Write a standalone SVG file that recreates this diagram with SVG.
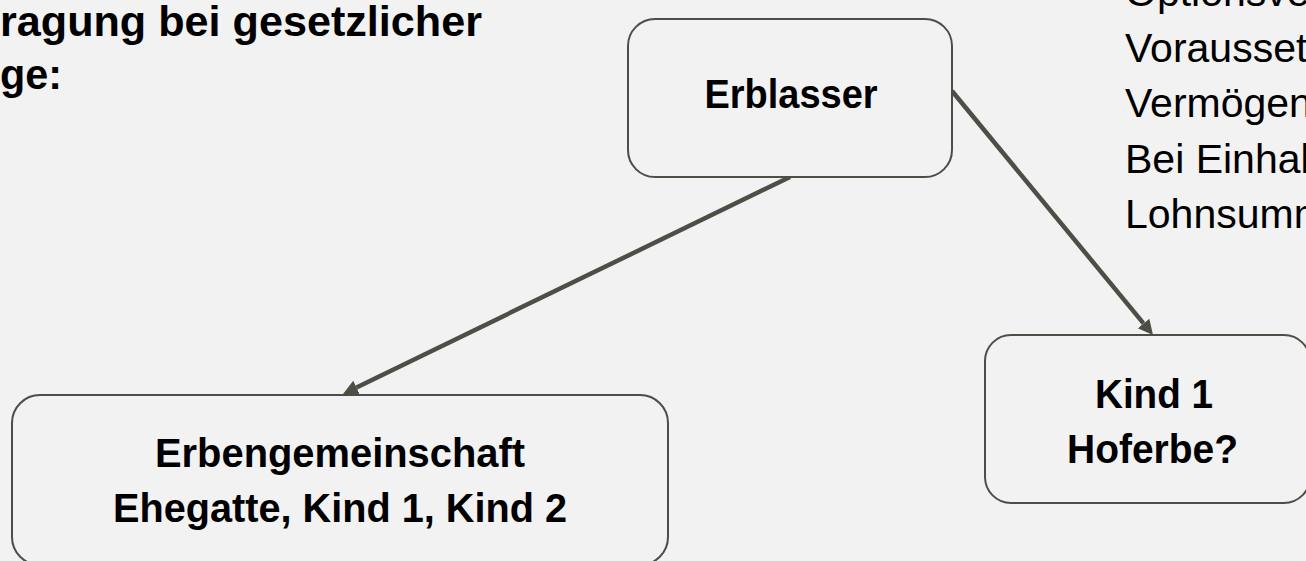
<svg xmlns="http://www.w3.org/2000/svg" width="1306" height="561" viewBox="0 0 1306 561">
  <style>
    .bg { fill: #f2f2f2; }
    .box { fill: #f2f2f2; stroke: #4b4f46; stroke-width: 2; }
    .link { fill: none; stroke: #4b4f46; stroke-width: 4.5; }
    .lbl { font-family: "Liberation Sans", Arial, sans-serif; font-weight: bold; font-size: 40px; fill: #000; text-anchor: middle; }
    .head { font-family: "Liberation Sans", Arial, sans-serif; font-weight: bold; font-size: 42px; fill: #000; }
    .note { font-family: "Liberation Sans", Arial, sans-serif; font-size: 41px; fill: #000; }
  </style>
  <defs>
    <marker id="arrow" markerUnits="userSpaceOnUse" viewBox="0 -8 15 16" refX="0" refY="0" markerWidth="15" markerHeight="16" orient="auto">
      <path d="M0,-7.5 L15,0 L0,7.5 Z" fill="#4b4f46"/>
    </marker>
  </defs>

  <rect class="bg" x="0" y="0" width="1306" height="561"/>

  <!-- heading, running off the left edge -->
  <g id="heading">
    <text class="head" x="0" y="36" textLength="482" lengthAdjust="spacingAndGlyphs">ragung bei gesetzlicher</text>
    <text class="head" x="0" y="89" textLength="62" lengthAdjust="spacingAndGlyphs">ge:</text>
  </g>

  <!-- side notes, running off the right edge -->
  <g id="notes">
    <text class="note" x="1125" y="6">Optionsve</text>
    <text class="note" x="1125" y="62">Vorausset</text>
    <text class="note" x="1125" y="117">Vermögen</text>
    <text class="note" x="1125" y="173">Bei Einhal</text>
    <text class="note" x="1125" y="228">Lohnsumm</text>
  </g>

  <g id="connectors">
    <line class="link" x1="790" y1="177" x2="356.5" y2="387.4" marker-end="url(#arrow)"/>
    <line class="link" x1="952" y1="91" x2="1143.5" y2="323.4" marker-end="url(#arrow)"/>
  </g>

  <g id="node-erblasser">
    <rect class="box" x="628" y="19" width="324" height="158" rx="27" ry="27"/>
    <text class="lbl" x="791" y="108" textLength="173" lengthAdjust="spacingAndGlyphs">Erblasser</text>
  </g>

  <g id="node-erbengemeinschaft">
    <rect class="box" x="12" y="395" width="656" height="170" rx="28" ry="28"/>
    <text class="lbl" x="340" y="467" textLength="370" lengthAdjust="spacingAndGlyphs">Erbengemeinschaft</text>
    <text class="lbl" x="340" y="522" textLength="454" lengthAdjust="spacingAndGlyphs">Ehegatte, Kind 1, Kind 2</text>
  </g>

  <g id="node-kind1">
    <rect class="box" x="985" y="335" width="325" height="168" rx="26" ry="26"/>
    <text class="lbl" x="1154" y="408" textLength="118" lengthAdjust="spacingAndGlyphs">Kind 1</text>
    <text class="lbl" x="1152.5" y="463" textLength="171" lengthAdjust="spacingAndGlyphs">Hoferbe?</text>
  </g>
</svg>
